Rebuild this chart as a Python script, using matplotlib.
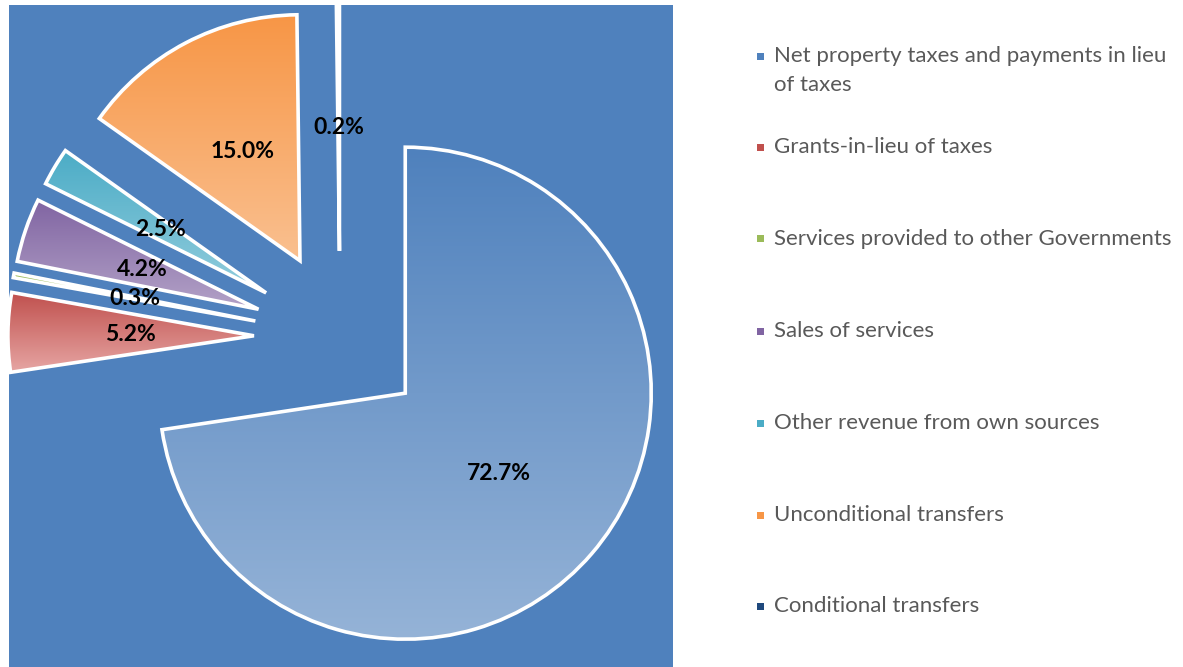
import numpy as np
import matplotlib.pyplot as plt
from matplotlib.colors import LinearSegmentedColormap
from matplotlib.patches import Rectangle

# revenue shares (%), pie order starts at 12 o'clock going clockwise
categories = [
    "Net property taxes and payments in lieu\nof taxes",
    "Grants-in-lieu of taxes",
    "Services provided to other Governments",
    "Sales of services",
    "Other revenue from own sources",
    "Unconditional transfers",
    "Conditional transfers",
]
values = [72.7, 5.2, 0.3, 4.2, 2.5, 15.0, 0.2]
pct_labels = ["72.7%", "5.2%", "0.3%", "4.2%", "2.5%", "15.0%", "0.2%"]

top_colors = ["#4F81BD", "#C0504D", "#9BBB59", "#8064A2", "#4BACC6", "#F79646", "#1F497D"]
bottom_colors = ["#95B3D7", "#E6A5A3", "#C3D69B", "#B3A2C7", "#93CDDD", "#FAC090", "#548DD4"]

W, H = 1183, 667
fig = plt.figure(figsize=(W / 100, H / 100), dpi=100)
fig.patch.set_facecolor("white")

# plot area in pixels: x 9..673, y 5..667
ax = fig.add_axes([9 / W, 0, (673 - 9) / W, (667 - 5) / H])

wedges, _, autotexts = ax.pie(
    values,
    startangle=90,
    counterclock=False,
    explode=[0.35] * len(values),
    radius=1,
    pctdistance=0.5,
    autopct="%1.1f%%",
    wedgeprops=dict(edgecolor="white", linewidth=2.6),
    textprops=dict(fontsize=16.5, fontweight="bold", color="black", family="Lato"),
)

# vertical gradient fill inside each slice
grad = np.linspace(0, 1, 256).reshape(-1, 1)
for w, c0, c1 in zip(wedges, top_colors, bottom_colors):
    ext = w.get_path().get_extents()
    cmap = LinearSegmentedColormap.from_list("g", [c0, c1])
    im = ax.imshow(grad, cmap=cmap, extent=(ext.x0, ext.x1, ext.y0, ext.y1),
                   aspect="auto", zorder=1, interpolation="bilinear")
    im.set_clip_path(w)
    w.set_facecolor("none")
    w.set_zorder(2)

for t, s in zip(autotexts, pct_labels):
    t.set_text(s)
    t.set_zorder(5)

R = 246.0
cx, cy = 340 - 9, 667 - 337
ax.set_frame_on(True)
for sp in ax.spines.values():
    sp.set_visible(False)
ax.set_facecolor("#4F81BD")
ax.set_aspect("auto")
ax.set_xlim(-cx / R, (673 - 9 - cx) / R)
ax.set_ylim(-(cy) / R, (662 - cy) / R)
ax.set_xticks([])
ax.set_yticks([])

# legend drawn by hand on the right
leg_y = [56, 147, 239, 331, 423, 515, 606]
for lab, c0, c1, y in zip(categories, top_colors, bottom_colors, leg_y):
    fig.text(774 / W, 1 - (y - 10) / H, lab, fontsize=16, color="#595959",
             family="Lato", va="top", ha="left", linespacing=1.55)
    fig.patches.append(Rectangle(((757) / W, 1 - (y + 3.5) / H), 7 / W, 7 / H,
                                 transform=fig.transFigure, facecolor=c0,
                                 edgecolor="none"))

fig.savefig("out.png", dpi=100)
